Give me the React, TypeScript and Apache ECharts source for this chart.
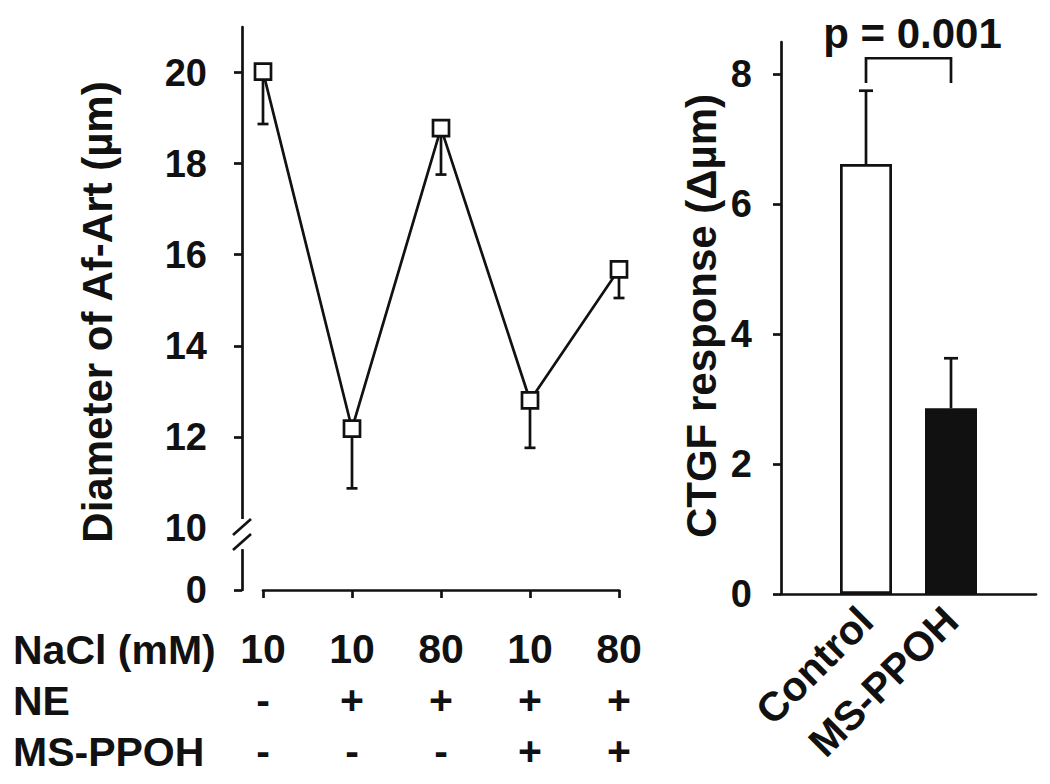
import React, { useEffect, useRef } from 'react';
import * as echarts from 'echarts';

// ---- data ----
const conditions = ['c1', 'c2', 'c3', 'c4', 'c5'];
const naclRow = ['10', '10', '80', '10', '80'];
const neRow = ['-', '+', '+', '+', '+'];
const msRow = ['-', '-', '-', '+', '+'];
const rowTitles = ['NaCl (mM)', 'NE', 'MS-PPOH'];
const diameterMean = [20.02, 12.18, 18.78, 12.8, 15.68];
const diameterSD = [1.15, 1.31, 1.02, 1.04, 0.63];
const upperTicks = [10, 12, 14, 16, 18, 20];
const lowerTicks = [0];

const barCategories = ['Control', 'MS-PPOH'];
const ctgfMean = [6.62, 2.86];
const ctgfSD = [1.13, 0.77];
const ctgfTicks = [0, 2, 4, 6, 8];
const barColors = ['#ffffff', '#111111'];
const pLabel = 'p = 0.001';
const bracketLegBottom = 7.87;
const bracketTop = 8.25;

const INK = '#111111';
const FONT = "'Liberation Sans', Arial, Helvetica, sans-serif";
const LW = 2.7;

export default function App() {
  const ref = useRef<HTMLDivElement>(null);

  useEffect(() => {
    document.body.style.margin = '0';
    if (!ref.current) return;
    const chart = echarts.init(ref.current, undefined, { renderer: 'svg' });

    const tickLabelStyle = {
      color: INK,
      fontFamily: FONT,
      fontWeight: 'bold' as const,
      fontSize: 38,
    };

    const option: any = {
      animation: false,
      backgroundColor: '#ffffff',
      grid: [
        { left: 263, right: 431, top: 27, height: 501 },
        { left: 263, right: 431, top: 550, height: 40 },
        { left: 781, width: 255, top: 42, height: 552 },
      ],
      xAxis: [
        {
          gridIndex: 0,
          type: 'category',
          data: conditions,
          boundaryGap: false,
          show: false,
        },
        {
          gridIndex: 1,
          type: 'category',
          data: conditions,
          boundaryGap: false,
          offset: 7,
          axisLine: { show: true, lineStyle: { color: INK, width: LW } },
          axisTick: { show: true, length: 8, lineStyle: { color: INK, width: LW } },
          splitLine: { show: false },
          axisLabel: {
            interval: 0,
            margin: 26,
            color: INK,
            fontFamily: FONT,
            fontWeight: 'bold',
            fontSize: 41,
            lineHeight: 51,
            formatter: (_v: string, i: number) => `${naclRow[i]}\n${neRow[i]}\n${msRow[i]}`,
          },
        },
        {
          gridIndex: 2,
          type: 'value',
          min: 0,
          max: 3,
          axisLine: { show: true, onZero: false, lineStyle: { color: INK, width: LW } },
          axisTick: { show: false },
          splitLine: { show: false },
          axisLabel: {
            customValues: [1, 2],
            rotate: 45,
            margin: 20,
            color: INK,
            fontFamily: FONT,
            fontWeight: 'bold',
            fontSize: 41,
            formatter: (v: number) => barCategories[Math.round(v) - 1] ?? '',
          },
        },
      ],
      yAxis: [
        {
          gridIndex: 0,
          type: 'value',
          min: 10,
          max: 21,
          offset: 21,
          axisLine: { show: true, lineStyle: { color: INK, width: LW } },
          axisTick: { show: true, length: 8, customValues: upperTicks, lineStyle: { color: INK, width: LW } },
          axisLabel: { ...tickLabelStyle, margin: 35, customValues: upperTicks },
          splitLine: { show: false },
        },
        {
          gridIndex: 1,
          type: 'value',
          min: 0,
          max: 1,
          offset: 21,
          axisLine: { show: true, lineStyle: { color: INK, width: LW } },
          axisTick: { show: true, length: 8, customValues: lowerTicks, lineStyle: { color: INK, width: LW } },
          axisLabel: { ...tickLabelStyle, margin: 35, customValues: lowerTicks },
          splitLine: { show: false },
        },
        {
          gridIndex: 2,
          type: 'value',
          min: 0,
          max: 8.5,
          axisLine: { show: true, lineStyle: { color: INK, width: LW } },
          axisTick: { show: true, length: 8, customValues: ctgfTicks, lineStyle: { color: INK, width: LW } },
          axisLabel: { ...tickLabelStyle, margin: 29, customValues: ctgfTicks },
          splitLine: { show: false },
        },
      ],
      series: [
        {
          type: 'custom',
          name: 'diameter-sd',
          xAxisIndex: 0,
          yAxisIndex: 0,
          z: 1,
          data: diameterMean.map((m, i) => [i, m, m - diameterSD[i]]),
          encode: { x: 0, y: 1 },
          renderItem: (_p: any, api: any) => {
            const a = api.coord([api.value(0), api.value(1)]);
            const b = api.coord([api.value(0), api.value(2)]);
            const st = { stroke: INK, lineWidth: LW, fill: 'none' };
            return {
              type: 'group',
              children: [
                { type: 'line', shape: { x1: a[0], y1: a[1], x2: b[0], y2: b[1] }, style: st },
                { type: 'line', shape: { x1: b[0] - 5.5, y1: b[1], x2: b[0] + 5.5, y2: b[1] }, style: st },
              ],
            };
          },
        },
        {
          type: 'line',
          name: 'diameter',
          xAxisIndex: 0,
          yAxisIndex: 0,
          z: 3,
          data: diameterMean,
          symbol: 'rect',
          symbolSize: 16,
          showAllSymbol: true,
          lineStyle: { color: INK, width: LW },
          itemStyle: { color: '#ffffff', borderColor: INK, borderWidth: LW },
        },
        {
          type: 'bar',
          name: 'ctgf',
          xAxisIndex: 2,
          yAxisIndex: 2,
          barWidth: 52,
          data: ctgfMean.map((m, i) => ({
            value: [i + 1, m],
            itemStyle: { color: barColors[i], borderColor: INK, borderWidth: LW },
          })),
        },
        {
          type: 'custom',
          name: 'ctgf-sd',
          xAxisIndex: 2,
          yAxisIndex: 2,
          z: 3,
          data: ctgfMean.map((m, i) => [i + 1, m, m + ctgfSD[i]]),
          encode: { x: 0, y: 1 },
          renderItem: (_p: any, api: any) => {
            const a = api.coord([api.value(0), api.value(1)]);
            const b = api.coord([api.value(0), api.value(2)]);
            const st = { stroke: INK, lineWidth: LW, fill: 'none' };
            return {
              type: 'group',
              children: [
                { type: 'line', shape: { x1: a[0], y1: a[1], x2: b[0], y2: b[1] }, style: st },
                { type: 'line', shape: { x1: b[0] - 7, y1: b[1], x2: b[0] + 7, y2: b[1] }, style: st },
              ],
            };
          },
        },
        {
          type: 'custom',
          name: 'bracket',
          xAxisIndex: 2,
          yAxisIndex: 2,
          z: 3,
          data: [[1, 2, bracketLegBottom, bracketTop]],
          encode: { x: 0, y: 3 },
          renderItem: (_p: any, api: any) => {
            const x1 = api.value(0);
            const x2 = api.value(1);
            const lo = api.value(2);
            const hi = api.value(3);
            const p1 = api.coord([x1, lo]);
            const p2 = api.coord([x1, hi]);
            const p3 = api.coord([x2, hi]);
            const p4 = api.coord([x2, lo]);
            return {
              type: 'group',
              children: [
                {
                  type: 'polyline',
                  shape: { points: [p1, p2, p3, p4] },
                  style: { stroke: INK, lineWidth: LW, fill: 'none' },
                },
                {
                  type: 'text',
                  x: (p2[0] + p3[0]) / 2 + 4,
                  y: p2[1] - 25,
                  style: {
                    text: pLabel,
                    fill: INK,
                    fontFamily: FONT,
                    fontWeight: 'bold',
                    fontSize: 42,
                    align: 'center',
                    verticalAlign: 'middle',
                    textAlign: 'center',
                    textVerticalAlign: 'middle',
                  },
                },
              ],
            };
          },
        },
      ],
      graphic: [
        // axis break
        { type: 'rect', shape: { x: 231, y: 519, width: 20, height: 30 }, style: { fill: '#ffffff' }, z: 100 },
        { type: 'line', shape: { x1: 233, y1: 535, x2: 251, y2: 519 }, style: { stroke: INK, lineWidth: LW }, z: 101 },
        { type: 'line', shape: { x1: 233, y1: 550, x2: 251, y2: 534 }, style: { stroke: INK, lineWidth: LW }, z: 101 },
        // axis titles
        {
          type: 'text',
          x: 97,
          y: 312,
          rotation: Math.PI / 2,
          style: {
            text: 'Diameter of Af-Art (µm)',
            fill: INK,
            fontFamily: FONT,
            fontWeight: 'bold',
            fontSize: 42,
            align: 'center',
            verticalAlign: 'middle',
            textAlign: 'center',
            textVerticalAlign: 'middle',
          },
        },
        {
          type: 'text',
          x: 701,
          y: 316,
          rotation: Math.PI / 2,
          style: {
            text: 'CTGF response (Δµm)',
            fill: INK,
            fontFamily: FONT,
            fontWeight: 'bold',
            fontSize: 42,
            align: 'center',
            verticalAlign: 'middle',
            textAlign: 'center',
            textVerticalAlign: 'middle',
          },
        },
        // table row titles
        ...rowTitles.map((t, i) => ({
          type: 'text',
          x: 13,
          y: 650 + i * 51,
          style: {
            text: t,
            fill: INK,
            fontFamily: FONT,
            fontWeight: 'bold',
            fontSize: 41,
            align: 'left',
            verticalAlign: 'middle',
            textAlign: 'left',
            textVerticalAlign: 'middle',
          },
        })),
      ],
    };

    chart.setOption(option);
    return () => chart.dispose();
  }, []);

  return <div ref={ref} style={{ width: 1050, height: 784 }} />;
}
